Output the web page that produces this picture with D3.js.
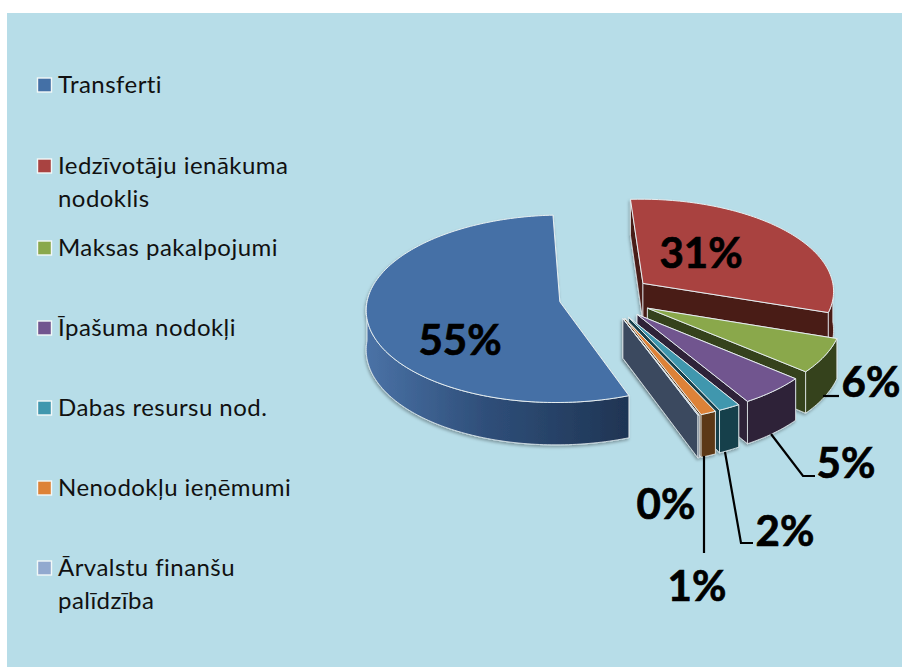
<!DOCTYPE html>
<html><head><meta charset="utf-8">
<script src="https://cdnjs.cloudflare.com/ajax/libs/d3/7.8.5/d3.min.js"></script>
<style>html,body{margin:0;padding:0;background:#fff}svg{display:block}text{font-variant-ligatures:none}</style>
</head><body><div id="chart"></div>
<script>
const categories = ["Transferti","Iedzīvotāju ienākuma nodoklis","Maksas pakalpojumi","Īpašuma nodokļi","Dabas resursu nod.","Nenodokļu ieņēmumi","Ārvalstu finanšu palīdzība"];
const values = [54.8,31,6,5.2,1.7,1.2,0.1];
const valueLabels = ["55%","31%","6%","5%","2%","1%","0%"];
const legendLines = [["Transferti"],["Iedzīvotāju ienākuma","nodoklis"],["Maksas pakalpojumi"],["Īpašuma nodokļi"],["Dabas resursu nod."],["Nenodokļu ieņēmumi"],["Ārvalstu finanšu","palīdzība"]];
const topColors = ["#4470a6","#a94341","#8aa84c","#71558f","#4097ae","#dd8237","#92a9cf"];
const sideColors = ["#2f4c73","#4a1a18","#35431c","#2e2138","#17404c","#5c3713","#3b4a5e"];

const W=902,H=667;
const svg=d3.select("#chart").append("svg").attr("width",W).attr("height",H);
svg.append("rect").attr("width",W).attr("height",H).attr("fill","#fff");
svg.append("rect").attr("x",7).attr("y",13).attr("width",W-7).attr("height",H-13).attr("fill","#b7dde8");
const defs=svg.append("defs");
const f=defs.append("filter").attr("id","sh").attr("x","-10%").attr("y","-10%").attr("width","120%").attr("height","130%");
f.append("feDropShadow").attr("dx",-1).attr("dy",2).attr("stdDeviation",1.5).attr("flood-color","#000").attr("flood-opacity",0.3);
const g0=defs.append("linearGradient").attr("id","blueWall").attr("gradientUnits","userSpaceOnUse").attr("x1",367).attr("x2",626).attr("y1",0).attr("y2",0);
g0.append("stop").attr("offset",0).attr("stop-color","#4a72a6");
g0.append("stop").attr("offset",0.45).attr("stop-color","#2f4f7a");
g0.append("stop").attr("offset",1).attr("stop-color","#1f3554");

// 3D projection
const cx=606,cy=297,rx=192,ry=92.5,persp=0.0753,depth=39,explode=0.245;
function project(wx,wy,z){
  const s=1/(1+persp*wy);
  return [cx+rx*wx*s, cy-ry*wy*s+z*depth*s];
}
const pie=d3.pie().sort(null).startAngle(159.5*Math.PI/180).endAngle((159.5+360)*Math.PI/180);
const arcs=pie(values);
const line=d3.line();

function pt(d,a,r,z){
  const m=(d.startAngle+d.endAngle)/2;
  return project(explode*Math.sin(m)+r*Math.sin(a), explode*Math.cos(m)+r*Math.cos(a), z);
}
function arcSamples(a0,a1){
  const n=Math.max(2,Math.ceil(Math.abs(a1-a0)/0.02));
  return d3.range(n+1).map(i=>a0+(a1-a0)*i/n);
}
function facingRanges(d){
  const out=[],lo=Math.PI/2,hi=3*Math.PI/2;
  const rngs=[[lo,hi],[lo+2*Math.PI,hi+2*Math.PI]];
  rngs.forEach(([p,q])=>{
    const a=Math.max(p,d.startAngle),b=Math.min(q,d.endAngle);
    if(b>a) out.push([a,b]);
  });
  return out;
}
const order=[1,2,3,4,5,6,0];
const edge="#e6eef0";
order.forEach(i=>{
  const d=arcs[i];
  const g=svg.append("g").attr("filter","url(#sh)");
  const side=sideColors[i], top=topColors[i];
  [d.startAngle,d.endAngle].forEach(a=>{
    g.append("path").attr("d",line([pt(d,0,0,0),pt(d,a,1,0),pt(d,a,1,1),pt(d,0,0,1)])+"Z")
      .attr("fill",side).attr("stroke",edge).attr("stroke-width",0.8);
  });
  facingRanges(d).forEach(([a,b])=>{
    const s=arcSamples(a,b);
    const pts=s.map(t=>pt(d,t,1,0)).concat(s.slice().reverse().map(t=>pt(d,t,1,1)));
    g.append("path").attr("d",line(pts)+"Z")
      .attr("fill",i===0?"url(#blueWall)":side).attr("stroke",edge).attr("stroke-width",0.8);
  });
  const tp=[pt(d,0,0,0)].concat(arcSamples(d.startAngle,d.endAngle).map(t=>pt(d,t,1,0)));
  g.append("path").attr("d",line(tp)+"Z").attr("fill",top).attr("stroke",edge).attr("stroke-width",1);
});

// leader lines
const leaderLayout=[
  {i:2,pts:[[823,396],[839,396]]},
  {i:3,pts:[[771,434],[803,476],[815,476]]},
  {i:4,pts:[[725,452],[741,543],[753,543]]},
  {i:5,pts:[[704,456],[704,553]]}
];
leaderLayout.forEach(l=>svg.append("path").attr("d",line(l.pts)).attr("fill","none").attr("stroke","#000").attr("stroke-width",2.2));

// value labels
const labelPos=[[460,339],[701,252],[871,381],[846,462],[785,530],[697,585],[666,503]];
svg.selectAll("text.val").data(valueLabels).join("text").attr("class","val")
  .attr("x",(d,i)=>labelPos[i][0]).attr("y",(d,i)=>labelPos[i][1])
  .attr("text-anchor","middle").attr("dominant-baseline","central")
  .attr("font-family","Lato").attr("font-weight",700).attr("font-size",42)
  .attr("fill","#000").attr("stroke","#000").attr("stroke-width",0.7).text(d=>d);

// legend
const legendY=[85,166,248,328,408,488,568];
categories.forEach((c,i)=>{
  const y=legendY[i];
  svg.append("rect").attr("x",37.5).attr("y",y-7).attr("width",14).attr("height",14)
    .attr("fill",topColors[i]).attr("stroke","#f2f8f8").attr("stroke-width",1.4);
  legendLines[i].forEach((t,j)=>{
    svg.append("text").attr("x",58).attr("y",y+8+j*33).attr("font-family","Lato")
      .attr("font-size",24).attr("letter-spacing",0.45).attr("fill","#111").text(t);
  });
});
</script></body></html>
